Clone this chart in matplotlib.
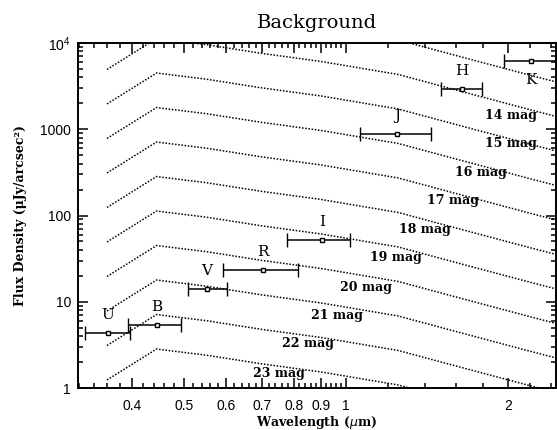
import numpy as np
import matplotlib
matplotlib.use('Agg')
import matplotlib.pyplot as plt
from matplotlib.ticker import FixedLocator, FixedFormatter, NullFormatter

# photometric bands (points with bandwidth bars)
bands = ['U', 'B', 'V', 'R', 'I', 'J', 'H', 'K']
band_wl = [0.361, 0.445, 0.552, 0.701, 0.902, 1.244, 1.643, 2.207]
band_flux = [4.34, 5.37, 14.1, 23.3, 52.0, 881.0, 2930.0, 6180.0]
band_lo = [0.327, 0.393, 0.508, 0.591, 0.777, 1.062, 1.50, 1.967]
band_hi = [0.397, 0.493, 0.601, 0.814, 1.02, 1.439, 1.79, 2.46]

# constant surface brightness curves: 0 mag flux (Jy) at the band wavelengths
curve_wl = [0.36, 0.445, 0.55, 0.70, 0.90, 1.25, 1.65, 2.20, 2.50]
zero_mag_jy = [1965, 4485, 3810, 3010, 2430, 1720, 1080, 670, 545]
mags = [13, 14, 15, 16, 17, 18, 19, 20, 21, 22, 23]

# where the "NN mag" labels sit
label_mags = [14, 15, 16, 17, 18, 19, 20, 21, 22, 23]
label_wl = [2.026, 2.026, 1.782, 1.581, 1.402, 1.239, 1.089, 0.962, 0.850, 0.751]
label_flux = [1462, 675, 319, 151, 69.7, 32.2, 14.8, 7.02, 3.32, 1.49]

plt.rcParams['mathtext.fontset'] = 'custom'
plt.rcParams['mathtext.rm'] = 'Liberation Sans'

fig = plt.figure(figsize=(5.57, 4.30), dpi=100)
ax = fig.add_axes([78 / 557, 1 - 388 / 430, 478 / 557, 345 / 430])
ax.set_xscale('log')
ax.set_yscale('log')
ax.set_xlim(0.318, 2.457)
ax.set_ylim(1, 1e4)

zp = np.array(zero_mag_jy) * 1e6  # µJy
for m in mags:
    ax.plot(curve_wl, zp * 10 ** (-0.4 * m), color='black', lw=1.1,
            linestyle=(0, (1, 1.1)), zorder=3)

serif = 'DejaVu Serif'
for m, x, y in zip(label_mags, label_wl, label_flux):
    ax.text(x, y, f'{m} mag', fontsize=9, fontweight='bold', family=serif,
            ha='center', va='center', zorder=2)

xerr = [np.array(band_wl) - np.array(band_lo), np.array(band_hi) - np.array(band_wl)]
ax.errorbar(band_wl, band_flux, xerr=xerr, fmt='s', ms=3.5, mfc='white',
            mec='black', mew=1, ecolor='black', elinewidth=1.1, capsize=5,
            capthick=1.1, zorder=4)

for b, x, y in zip(bands, band_wl, band_flux):
    dy = -14 if b == 'K' else 13
    ax.annotate(b, (x, y), xytext=(0, dy), textcoords='offset points',
                ha='center', va='center', fontsize=11, family=serif, zorder=5)

# ticks
major_x = [0.4, 0.5, 0.6, 0.7, 0.8, 0.9, 1, 2]
minor_x = [v for v in np.round(np.arange(0.32, 1.0, 0.02), 2) if v not in major_x]
minor_x += [1.2, 1.4, 1.6, 1.8, 2.2, 2.4]
ax.xaxis.set_major_locator(FixedLocator(major_x))
ax.xaxis.set_major_formatter(FixedFormatter(['0.4', '0.5', '0.6', '0.7', '0.8', '0.9', '1', '2']))
ax.xaxis.set_minor_locator(FixedLocator(minor_x))
ax.xaxis.set_minor_formatter(NullFormatter())

ax.yaxis.set_major_locator(FixedLocator([1, 10, 100, 1000, 10000]))
ax.yaxis.set_major_formatter(FixedFormatter(['1', '10', '100', '1000', r'$\mathregular{10^4}$']))

ax.tick_params(which='both', direction='in', top=True, right=True, width=1.1,
               labelsize=10, labelfontfamily='Liberation Sans')
ax.tick_params(which='major', length=7)
ax.tick_params(which='minor', length=3.5)
ax.tick_params(axis='x', pad=8)
ax.tick_params(axis='y', pad=5)
for s in ax.spines.values():
    s.set_linewidth(1.4)

ax.set_xlabel(r'Wavelength ($\mu$m)', fontsize=9, fontweight='bold', family=serif, va='center')
ax.xaxis.set_label_coords(0.5, -0.099)
ax.set_ylabel('Flux Density (μJy/arcsec²)', fontsize=9, fontweight='bold', family=serif, va='center')
ax.yaxis.set_label_coords(-0.121, 0.5)
ax.text(0.5, 1.057, 'Background', transform=ax.transAxes, ha='center', va='center',
        fontsize=14, family=serif)

fig.savefig('out.png', dpi=100)
